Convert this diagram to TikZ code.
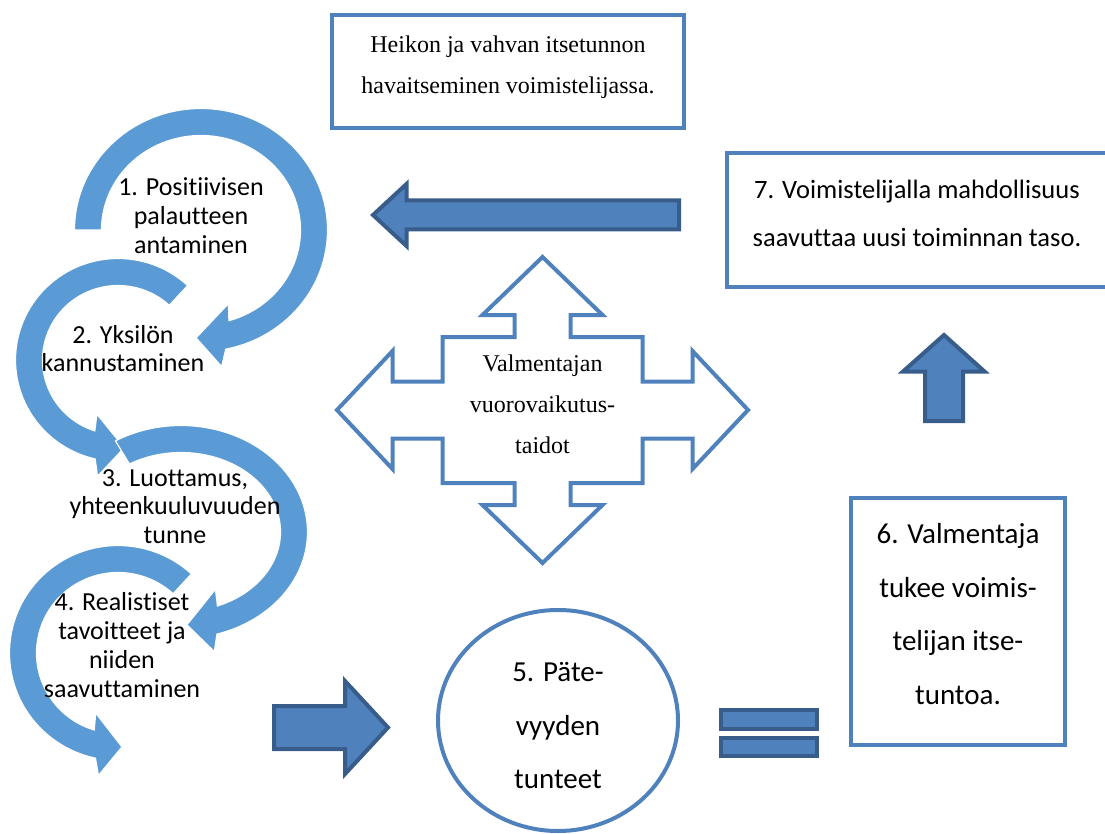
\documentclass[tikz,border=0pt]{standalone}
\usepackage{fontspec}
\usepackage{xcolor}
\usepackage{tikz}
\usetikzlibrary{shapes.geometric}

\setmainfont{Liberation Serif}
\newfontfamily\carlitofont[Ligatures=NoCommon]{Carlito}
\newfontfamily\timesfont{Liberation Serif}

\definecolor{ringblue}{HTML}{5B9BD5}
\definecolor{boxblue}{HTML}{4F81BD}
\definecolor{edgeblue}{HTML}{385D8A}

% curved arrow: centre x, centre y, x radius, y radius, start angle, head angle, tip angle
\newcommand{\ringarrow}[7]{%
  \pgfmathsetmacro{\rdir}{(#7>#6)*2-1}%
  \pgfmathsetmacro{\rao}{#6+2*\rdir}%
  \pgfmathsetmacro{\rai}{#6-3*\rdir}%
  \pgfmathsetmacro{\rbo}{#6+5*\rdir}%
  \pgfmathsetmacro{\rbi}{#6-6*\rdir}%
  \pgfmathsetmacro{\rsx}{(#3+13.5)*cos(#5)}%
  \pgfmathsetmacro{\rsy}{(#4+13.5)*sin(#5)}%
  \pgfmathsetmacro{\rbx}{(#3+30)*cos(\rbo)}%
  \pgfmathsetmacro{\rby}{(#4+30)*sin(\rbo)}%
  \pgfmathsetmacro{\rtx}{#3*cos(#7)}%
  \pgfmathsetmacro{\rty}{#4*sin(#7)}%
  \pgfmathsetmacro{\rcx}{(#3-30)*cos(\rbi)}%
  \pgfmathsetmacro{\rcy}{(#4-30)*sin(\rbi)}%
  \pgfmathsetmacro{\rix}{(#3-13.5)*cos(\rai)}%
  \pgfmathsetmacro{\riy}{(#4-13.5)*sin(\rai)}%
  \filldraw[ringarrow, shift={(#1,#2)}]
    (\rsx,\rsy) arc[start angle=#5, end angle=\rao, x radius=#3+13.5, y radius=#4+13.5]
    -- (\rbx,\rby) -- (\rtx,\rty) -- (\rcx,\rcy) -- (\rix,\riy)
    arc[start angle=\rai, end angle=#5, x radius=#3-13.5, y radius=#4-13.5] -- cycle;%
}

\begin{document}
\begin{tikzpicture}[
    x=1pt, y=-1pt,
    ringarrow/.style={fill=ringblue, draw=white, line width=1.2pt},
    blockarrow/.style={fill=boxblue, draw=edgeblue, line width=4pt, line join=miter},
    crossarrow/.style={draw=boxblue, line width=4pt, line join=miter},
    textbox/.style={rectangle, draw=boxblue, line width=4pt, inner sep=0pt},
    steptext/.style={align=center, inner sep=0pt, font=\carlitofont\fontsize{26}{28.8}\selectfont},
    goaltext/.style={align=center, inner sep=0pt, font=\carlitofont\fontsize{26.5}{48.4}\selectfont},
    bigtext/.style={align=center, inner sep=0pt, font=\carlitofont\fontsize{29}{53.5}\selectfont},
    notetext/.style={align=center, inner sep=0pt, font=\timesfont\fontsize{24}{40.8}\selectfont},
]
    \useasboundingbox (0,0) rectangle (1105,834);

    \ringarrow{201}{230}{113}{108}{180}{436.7}{452.5}
    \ringarrow{118}{360}{89}{88}{312.8}{104.9}{86}
    \ringarrow{181}{532}{113}{93}{238.8}{431.5}{447}
    \ringarrow{118}{653}{95}{94}{312.6}{104}{87.6}

    \node[steptext] (pos) at (191,215.5) {1. Positiivisen\\palautteen\\antaminen};
    \node[steptext] (enc) at (123,348.5) {2. Yksilön\\kannustaminen};
    \node[steptext] (trust) at (175,506.5) {3. Luottamus,\\yhteenkuuluvuuden\\tunne};
    \node[steptext] (aims) at (122,645) {4. Realistiset\\tavoitteet ja\\niiden\\saavuttaminen};

    \node[textbox, minimum width=352pt, minimum height=113pt] (obsbox) at (508,71.5) {};
    \node[notetext] (obs) at ([yshift=4pt]obsbox.center) {Heikon ja vahvan itsetunnon\\havaitseminen voimistelijassa.};

    \node[textbox, minimum width=380pt, minimum height=134pt] (goalbox) at (917,220) {};
    \node[goaltext] (goal) at ([yshift=6.8pt]goalbox.center) {7. Voimistelijalla mahdollisuus\\saavuttaa uusi toiminnan taso.};

    \node[textbox, minimum width=214pt, minimum height=247pt] (supbox) at (958,621.5) {};
    \node[bigtext] (sup) at ([yshift=7.7pt]supbox.center) {6. Valmentaja\\tukee voimis-\\telijan itse-\\tuntoa.};

    \node[ellipse, draw=boxblue, line width=4pt, inner sep=0pt, minimum width=240pt, minimum height=221pt] (worthring) at (558,720.5) {};
    \node[bigtext] (worth) at ([yshift=-5.4pt]worthring.center) {5. Päte-\\vyyden\\tunteet};

    \draw[crossarrow, shift={(542.5,410)}] (0,-153) -- (60,-95) -- (28,-95) -- (28,-73) -- (100,-73) -- (100,-28.5)
        -- (150,-28.5) -- (150,-59) -- (205.5,0) -- (150,59) -- (150,28.5) -- (100,28.5) -- (100,73) -- (28,73)
        -- (28,95) -- (60,95) -- (0,153) -- (-60,95) -- (-28,95) -- (-28,73) -- (-100,73) -- (-100,28.5)
        -- (-150,28.5) -- (-150,59) -- (-205.5,0) -- (-150,-59) -- (-150,-28.5) -- (-100,-28.5) -- (-100,-73)
        -- (-28,-73) -- (-28,-95) -- (-60,-95) -- cycle;
    \node[notetext] (skills) at (542.5,404.2) {Valmentajan\\vuorovaikutus-\\taidot};

    \draw[blockarrow] (679,200.5) -- (406.5,200.5) -- (406.5,184) -- (373,215) -- (406.5,246) -- (406.5,229.5) -- (679,229.5) -- cycle;
    \draw[blockarrow] (925,421) -- (925,371.5) -- (903,371.5) -- (944,335) -- (984.5,371.5) -- (963,371.5) -- (963,421) -- cycle;
    \draw[blockarrow] (274,706) -- (345,706) -- (345,681) -- (388,727.5) -- (345,774) -- (345,749) -- (274,749) -- cycle;
    \draw[blockarrow] (720.5,710) rectangle (816.5,728.5);
    \draw[blockarrow] (720.5,737.5) rectangle (816.5,755.5);
\end{tikzpicture}
\end{document}
